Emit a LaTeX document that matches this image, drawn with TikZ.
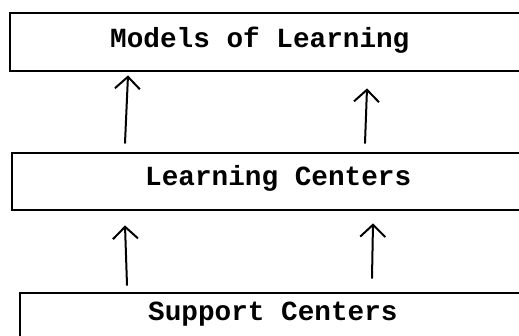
\documentclass[tikz,border=0pt]{standalone}
\usepackage{fontspec}
\setmonofont{Liberation Mono}
\usetikzlibrary{arrows.meta}

\begin{document}
\begin{tikzpicture}[
                x=1pt, y=-1pt,
                boxline/.style={line width=2pt, line cap=round},
                boxarea/.style={rectangle, draw=none, inner sep=0pt, anchor=north west},
                lbl/.style={anchor=base west, inner sep=0pt,
                    font=\fontsize{27.7}{32}\selectfont\ttfamily\bfseries},
                arr/.style={-{Straight Barb[length=12pt, width=25pt, line width=2pt]}, line width=2pt, line cap=round} ]

            \useasboundingbox (0,0) rectangle (519,336);

            % the three boxes, open on the right
            \node[boxarea, minimum width=509pt, minimum height=58pt] (models) at (10,13) {};
            \node[boxarea, minimum width=507pt, minimum height=57pt] (learning) at (12,153) {};
            \node[boxarea, minimum width=499pt, minimum height=43pt] (support) at (20,293) {};

            \draw[boxline] (models.north east) -- (models.north west) -- (models.south west) -- (models.south east);
            \draw[boxline] (learning.north east) -- (learning.north west) -- (learning.south west) -- (learning.south east);
            \draw[boxline] (support.north east) -- (support.north west) -- (support.south west);

            \node[lbl] (modelstext) at (110,48) {Models of Learning};
            \node[lbl] (learningtext) at (145,186) {Learning Centers};
            \node[lbl] (supporttext) at (148,320) {Support Centers};

            % arrows between the boxes
            \draw[arr] ([shift={(113,-10)}]learning.north west) -- ([shift={(118,4)}]models.south west);
            \draw[arr] ([shift={(353,-10)}]learning.north west) -- ([shift={(357,17)}]models.south west);
            \draw[arr] ([shift={(107,-8)}]support.north west) -- ([shift={(113,15)}]learning.south west);
            \draw[arr] ([shift={(352,-15)}]support.north west) -- ([shift={(361,13)}]learning.south west);

        \end{tikzpicture}
\end{document}
